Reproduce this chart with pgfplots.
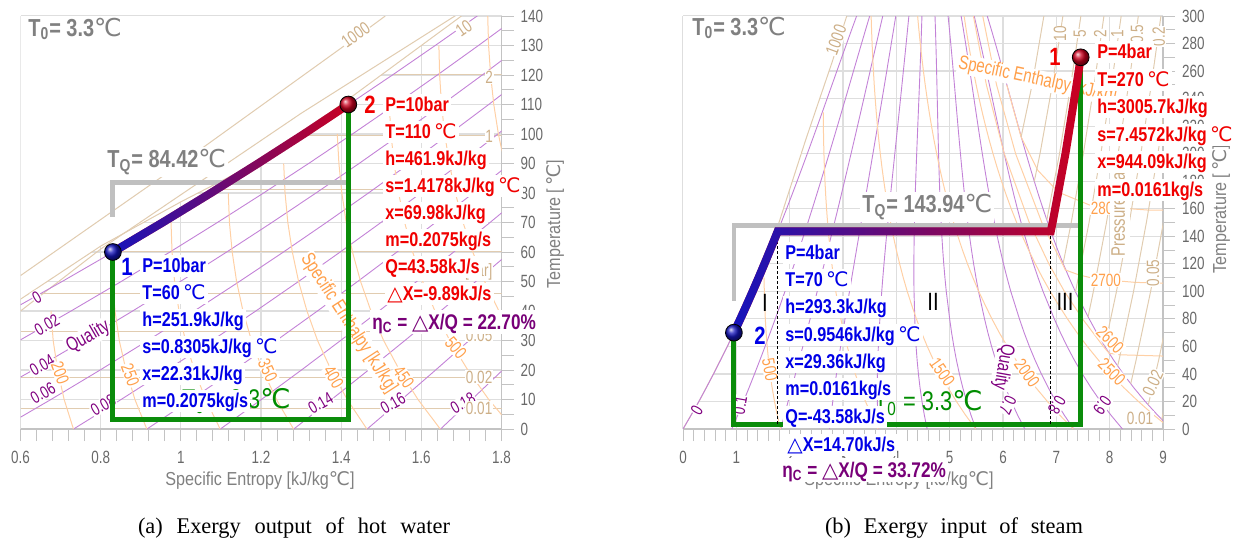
\documentclass[border=0pt]{standalone}
\usepackage{fontspec}
\setmainfont{Liberation Sans}
\newfontfamily\cf[FakeStretch=0.81]{Liberation Sans}
\newfontfamily\tf[FakeStretch=0.76]{Liberation Sans}
\newfontfamily\af[FakeStretch=0.86]{Liberation Sans}
\newfontfamily\dvw{DejaVu Sans}
\newfontfamily\capfont{Liberation Serif}
\usepackage{pgfplots}
\pgfplotsset{compat=1.18}
\usepackage{pgfplotstable}
\usetikzlibrary{fadings}

\newcommand\dC{{\dvw\mdseries ℃}}
\newcommand\tri{{\dvw\mdseries △}}
\newcommand\fs[1]{\fontsize{#1}{#1}\selectfont}

\definecolor{tgray}{RGB}{128,128,128}
\definecolor{tickgray}{RGB}{105,105,105}
\definecolor{axgray}{RGB}{195,195,195}
\definecolor{gridc}{RGB}{222,222,222}
\definecolor{cQline}{RGB}{195,130,215}
\definecolor{cQlab}{RGB}{128,0,128}
\definecolor{cHline}{RGB}{255,208,165}
\definecolor{cHlab}{RGB}{255,160,75}
\definecolor{cPline}{RGB}{225,204,176}
\definecolor{cPlab}{RGB}{205,175,135}
\definecolor{tblue}{RGB}{0,0,230}
\definecolor{tred}{RGB}{240,0,0}
\definecolor{tpurp}{RGB}{120,0,120}
\definecolor{tgreen}{RGB}{0,140,0}
\definecolor{lgreen}{RGB}{10,140,10}
\definecolor{tqgray}{RGB}{192,192,192}
\definecolor{pblue}{RGB}{20,20,190}
\definecolor{pred}{RGB}{205,0,30}

\tikzfading[name=fadeR, left color=transparent!0, right color=transparent!100]

% saturated water / steam table
\pgfplotstableread{
T sf sfg hf hfg
0 0 9.1556 0.0 2501.3
10 0.1510 8.7489 42.0 2477.7
20 0.2965 8.3696 83.9 2453.5
30 0.4368 8.0152 125.8 2430.5
40 0.5724 7.6833 167.5 2406.7
50 0.7038 7.3715 209.3 2382.7
60 0.8313 7.0781 251.1 2358.5
70 0.9551 6.8014 293.0 2333.8
80 1.0756 6.5399 334.9 2308.8
90 1.1929 6.2920 376.9 2283.2
100 1.3072 6.0477 419.0 2257.0
110 1.4188 5.8199 461.3 2230.2
120 1.5279 5.6017 503.7 2202.6
130 1.6346 5.3923 546.3 2174.2
140 1.7392 5.1907 589.1 2144.7
150 1.8418 4.9961 632.2 2114.3
160 1.9426 4.8076 675.5 2082.6
170 2.0417 4.6246 719.2 2049.5
180 2.1392 4.4465 763.2 2015.0
190 2.2355 4.2724 807.6 1978.8
200 2.3305 4.1018 852.4 1940.7
210 2.4245 3.9340 897.8 1900.7
220 2.5177 3.7684 943.6 1858.5
230 2.6101 3.6045 990.1 1813.8
240 2.7020 3.4417 1037.3 1766.5
250 2.7935 3.2795 1085.4 1716.2
260 2.8849 3.1170 1134.4 1662.5
270 2.9765 2.9536 1184.5 1605.2
280 3.0685 2.7886 1236.0 1543.6
290 3.1612 2.6209 1289.1 1477.1
300 3.2552 2.4497 1344.0 1404.9
}\sat

\pgfplotsset{
  tsaxis/.style={
    scale only axis, anchor=south west, height=206.5pt,
    axis x line=bottom, axis y line=right,
    axis line style={draw=axgray, line width=0.7pt, -},
    x axis line style={-}, y axis line style={-},
    tick align=outside, major tick length=6pt, minor tick length=6pt,
    tick style={draw=axgray, line width=0.5pt},
    grid=major, major grid style={draw=gridc, line width=0.6pt},
    tick label style={font=\tf\fs{8.85}, text=tickgray},
    xticklabel style={yshift=-1.5pt},
    /pgf/number format/assume math mode=true,
    clip mode=individual,
  },
  qln/.style={draw=cQline, line width=0.45pt, forget plot},
  hln/.style={draw=cHline, line width=0.5pt, forget plot},
  pln/.style={draw=cPline, line width=0.5pt, forget plot},
}
\tikzset{
  qlab/.style={text=cQlab, font=\tf\fs{8.6}, fill=white, inner sep=0.4pt},
  hlab/.style={text=cHlab, font=\tf\fs{8.9}, fill=white, inner sep=0.4pt},
  plab/.style={text=cPlab, font=\tf\fs{8.9}, fill=white, inner sep=0.4pt},
  bl/.style={anchor=west, fill=white, inner xsep=1pt, inner ysep=0.4pt,
     text height=8.6pt, text depth=2pt, text=tblue, font=\cf\bfseries\fs{10}},
  rd/.style={bl, text=tred},
  pu/.style={bl, text=tpurp, font=\cf\bfseries\fs{10.6}, text height=9pt},
  num/.style={font=\cf\bfseries\fs{12.5}},
  big/.style={anchor=west, inner sep=0pt, text=tgray, font=\cf\bfseries\fs{12.3}},
}

\begin{document}
\begin{tikzpicture}
\path[use as bounding box] (0,0) rectangle (620.5pt,274pt);

%================ LEFT =================
\begin{axis}[tsaxis, at={(10.25pt,59.5pt)}, width=240.5pt,
  xmin=0.6, xmax=1.8, ymin=0, ymax=140,
  xtick={0.6,0.8,1,1.2,1.4,1.6,1.8}, xticklabels={0.6,0.8,1,1.2,1.4,1.6,1.8},
  minor x tick num=4, ytick={0,10,...,140}, minor y tick num=1]
\addplot[fill=white, draw=none, forget plot] coordinates {(0.6,44) (0.8,62) (1.0,77) (1.2,91) (1.4,110) (1.6,130) (1.7,140) (0.6,140)};
\addplot[pln] coordinates {(0.6,44) (0.8,62) (1.0,77) (1.2,91) (1.4,110) (1.6,130) (1.7,140)};
\addplot[pln] coordinates {(0.6,52) (1.0,90) (1.46,135) (1.51,140)};
\addplot[pln] coordinates {(0.6,40) (0.8,61) (1.3,107) (1.8,150)};
% isobars in the wet region
\addplot[pln] coordinates {(1.5302,120.2) (1.8,120.2)};
\addplot[pln] coordinates {(1.3026,99.6) (1.8,99.6)};
\addplot[pln] coordinates {(1.0910,81.3) (1.8,81.3)};
\addplot[pln] coordinates {(0.8320,60.06) (1.8,60.06)};
\addplot[pln] coordinates {(0.6493,45.8) (1.8,45.8)};
\addplot[pln] coordinates {(0.6,32.9) (1.8,32.9)};
\addplot[pln] coordinates {(0.6,17.5) (1.8,17.5)};
\addplot[pln] coordinates {(0.6,7.0) (1.8,7.0)};
% quality lines
\pgfplotsinvokeforeach{0,0.02,0.04,0.06,0.08,0.1,0.12,0.14,0.16,0.18}{
  \addplot[qln] table[x expr=\thisrow{sf}+#1*\thisrow{sfg}, y=T]{\sat};
}
% enthalpy lines
\pgfplotsinvokeforeach{200,250,300,350,400,450,500,550,600}{
  \addplot[hln, restrict expr to domain={\thisrow{hf}}{-10:#1}] table[x expr=\thisrow{sf}+(#1-\thisrow{hf})/\thisrow{hfg}*\thisrow{sfg}, y=T]{\sat};
}
% background labels
\node[qlab, rotate=30] at (axis cs:0.641,44.7) {0};
\node[qlab, rotate=30] at (axis cs:0.666,35.3) {0.02};
\node[qlab, rotate=30] at (axis cs:0.654,21.7) {0.04};
\node[qlab, rotate=30] at (axis cs:0.656,12.2) {0.06};
\node[qlab, rotate=30] at (axis cs:0.806,8.1) {0.08};
\node[qlab, rotate=30] at (axis cs:1.349,8.8) {0.14};
\node[qlab, rotate=30] at (axis cs:1.529,8.8) {0.16};
\node[qlab, rotate=30] at (axis cs:1.704,8.8) {0.18};
\node[qlab, rotate=30, font=\tf\fs{9.8}] at (axis cs:0.769,31.2) {Quality};
\node[hlab, rotate=-70] at (axis cs:0.699,19.0) {200};
\node[hlab, rotate=-70] at (axis cs:0.874,18.3) {250};
\node[hlab, rotate=-65] at (axis cs:1.217,20) {350};
\node[hlab, rotate=-60] at (axis cs:1.381,17.6) {400};
\node[hlab, rotate=-55] at (axis cs:1.556,17.6) {450};
\node[hlab, rotate=-50] at (axis cs:1.686,27.5) {500};
\node[hlab, rotate=-57, font=\tf\fs{9.8}] at (axis cs:1.419,35.9) {Specific Enthalpy [kJ/kg]};
\node[plab, rotate=35] at (axis cs:1.436,133.6) {1000};
\node[plab, rotate=35] at (axis cs:1.706,135.9) {10};
\node[plab] at (axis cs:1.769,119.3) {2};
\node[plab] at (axis cs:1.769,99.3) {1};
\node[plab, anchor=east] at (axis cs:1.78,53.2) {Pressure [bar]};
\node[plab, anchor=east] at (axis cs:1.78,31.9) {0.05};
\node[plab, anchor=east] at (axis cs:1.78,17.6) {0.02};
\node[plab, anchor=east] at (axis cs:1.78,7.1) {0.01};
% T_Q, green path and process
\addplot[draw=tqgray, line width=2.4pt] coordinates {(0.8305,72) (0.8305,83.5) (1.4178,83.5)};
\addplot[draw=lgreen, line width=2.5pt] coordinates {(0.8305,60) (0.8305,3.3) (1.4178,3.3) (1.4178,110)};
\addplot[draw=pred, line width=4pt] table {
s T
0.8305 60
0.9545 70
1.0750 80
1.1924 90
1.3068 100
1.4178 110
};
\addplot[draw=pblue, line width=4pt, path fading=fadeR] table {
s T
0.8305 60
0.9545 70
1.0750 80
1.1924 90
1.3068 100
1.4178 110
};
\addplot[only marks, mark=ball, mark size=4.2pt, ball color=pblue, mark options={ball color=pblue}] coordinates {(0.8305,60)};
\addplot[only marks, mark=ball, mark size=4.2pt, ball color=pred, mark options={ball color=pred}] coordinates {(1.4178,110)};
\end{axis}

%================ RIGHT =================
\begin{axis}[tsaxis, at={(341.5pt,59.5pt)}, width=240pt,
  xmin=0, xmax=9, ymin=0, ymax=300,
  xtick={0,...,9}, minor x tick num=4, ytick={0,20,...,300}, minor y tick num=1]
\addplot[fill=white, draw=none, forget plot] coordinates {(0,0) (0.30,20) (0.57,40) (0.83,60) (1.08,80) (1.31,100) (1.55,120) (1.80,150) (2.30,210) (2.80,267) (3.07,300) (0,300)};
\addplot[pln] coordinates {(0,0) (0.30,20) (0.57,40) (0.83,60) (1.08,80) (1.31,100) (1.55,120) (1.80,150) (2.30,210) (2.80,267) (3.07,300)};
% quality lines
\pgfplotsinvokeforeach{0,0.1,0.2,0.3,0.4,0.5,0.6,0.7,0.8,0.9,1}{
  \addplot[qln] table[x expr=\thisrow{sf}+#1*\thisrow{sfg}, y=T]{\sat};
}
% enthalpy lines (wet region)
\pgfplotsinvokeforeach{500,1000,1500,2000,2500}{
  \addplot[hln, restrict expr to domain={\thisrow{hf}}{-10:#1}] table[x expr=\thisrow{sf}+(#1-\thisrow{hf})/\thisrow{hfg}*\thisrow{sfg}, y=T]{\sat};
}
\addplot[hln] coordinates {(9.0,53) (8.2,53.9) (7.99,55) (7.880,60) (7.492,80) (7.151,100) (6.859,120) (6.492,150) (6.024,200) (5.688,250) (5.445,300)};
\addplot[hln] coordinates {(9.0,106) (8.48,106.5) (7.74,109) (7.42,112) (7.17,115.5) (7.113,120) (6.728,150) (6.236,200) (5.879,250) (5.620,300)};
\addplot[hln] coordinates {(9.0,159) (8.73,159) (7.667,162) (7.04,172) (6.65,188) (6.34,212) (6.282,220) (6.070,250)};
% isobars (superheated region)
\addplot[pln] coordinates {(6.3409,212.4) (6.5453,250) (6.7664,300)};
\addplot[pln] coordinates {(6.5865,179.9) (6.6940,200) (6.9247,250) (7.1229,300)};
\addplot[pln] coordinates {(6.8213,151.8) (7.0592,200) (7.2709,250) (7.4599,300)};
\addplot[pln] coordinates {(7.1272,120.2) (7.2795,150) (7.5066,200) (7.7086,250) (7.8926,300)};
\addplot[pln] coordinates {(7.3594,99.6) (7.6134,150) (7.8343,200) (8.0333,250) (8.2158,300)};
\addplot[pln] coordinates {(7.5939,81.3) (7.6947,100) (7.9401,150) (8.1580,200) (8.3556,250) (8.5373,300)};
\addplot[pln] coordinates {(7.9085,60.06) (8.128,100) (8.368,150) (8.584,200) (8.780,250) (8.961,300)};
\addplot[pln] coordinates {(8.1502,45.8) (8.1749,50) (8.4479,100) (8.6882,150) (8.9038,200) (9.1002,250)};
\addplot[pln] coordinates {(8.3951,32.9) (8.495,50) (8.768,100) (9.008,150)};
\addplot[pln] coordinates {(8.7237,17.5) (8.918,50) (9.19,100)};
\addplot[pln] coordinates {(8.9756,7.0) (9.24,50)};
% background labels
\node[qlab, rotate=60] at (axis cs:0.26,13.8) {0};
\node[qlab, rotate=80] at (axis cs:1.07,17.4) {0.1};
\node[qlab, rotate=-115] at (axis cs:6.09,17.4) {0.7};
\node[qlab, rotate=-120] at (axis cs:7.01,17.4) {0.8};
\node[qlab, rotate=-125] at (axis cs:7.86,17.4) {0.9};
\node[qlab, rotate=-100, font=\tf\fs{9.8}] at (axis cs:6.0,45) {Quality};
\node[hlab, rotate=-80] at (axis cs:1.63,42.9) {500};
\node[hlab, rotate=-55] at (axis cs:4.86,41.4) {1500};
\node[hlab, rotate=-55] at (axis cs:6.45,40.7) {2000};
\node[hlab, rotate=-45] at (axis cs:8.04,41.4) {2500};
\node[hlab, rotate=-45] at (axis cs:8.01,64.7) {2600};
\node[hlab] at (axis cs:7.93,108.2) {2700};
\node[hlab] at (axis cs:7.93,160.5) {2800};
\node[hlab, rotate=-12, font=\tf\fs{9.8}] at (axis cs:6.65,253.5) {Specific Enthalpy [kJ/kg]};
\node[plab, rotate=70] at (axis cs:2.87,282.6) {1000};
\node[plab, rotate=90] at (axis cs:7.07,287) {10};
\node[plab, rotate=90] at (axis cs:7.44,287) {5};
\node[plab, rotate=90] at (axis cs:7.82,287) {2};
\node[plab, rotate=90] at (axis cs:8.14,287) {1};
\node[plab, rotate=90] at (axis cs:8.51,287) {0.5};
\node[plab, rotate=90] at (axis cs:8.92,285) {0.2};
\node[plab, rotate=90, font=\tf\fs{9.8}] at (axis cs:8.19,159) {Pressure [bar]};
\node[plab, rotate=90] at (axis cs:8.81,113.3) {0.05};
\node[plab, rotate=65] at (axis cs:8.81,33.4) {0.02};
\node[plab] at (axis cs:8.57,8.0) {0.01};
% T_Q, green, dashed, process
\addplot[draw=tqgray, line width=2.4pt] coordinates {(0.9546,93) (0.9546,148) (7.4572,148)};
\addplot[draw=lgreen, line width=2.5pt] coordinates {(0.9546,70) (0.9546,3.3) (7.4572,3.3) (7.4572,270)};
\addplot[black, line width=0.6pt, dash pattern=on 1.5pt off 1pt] coordinates {(1.7766,143.6) (1.7766,3.3)};
\addplot[black, line width=0.6pt, dash pattern=on 1.5pt off 1pt] coordinates {(6.8959,143.6) (6.8959,3.3)};
\addplot[draw=pred, line width=4pt] table {
s T
0.9546 70
1.0756 80
1.1929 90
1.3072 100
1.4188 110
1.5279 120
1.6346 130
1.7392 140
1.7766 143.6
6.8959 143.6
6.9299 150
7.1706 200
7.3789 250
7.4572 270
};
\addplot[draw=pblue, line width=4pt, path fading=fadeR] table {
s T
0.9546 70
1.0756 80
1.1929 90
1.3072 100
1.4188 110
1.5279 120
1.6346 130
1.7392 140
1.7766 143.6
6.8959 143.6
6.9299 150
7.1706 200
7.3789 250
7.4572 270
};
\addplot[only marks, mark=ball, mark size=4.2pt, ball color=pblue, mark options={ball color=pblue}] coordinates {(0.9546,70)};
\addplot[only marks, mark=ball, mark size=4.2pt, ball color=pred, mark options={ball color=pred}] coordinates {(7.4572,270)};
\end{axis}

%================ FOREGROUND TEXT (pixel coordinates) =================
\begin{scope}[x=0.5pt, y=-0.5pt, shift={(0pt,274pt)}]
% axis titles
\node[text=tgray, font=\af\fs{9.4}] at (260,480) {Specific Entropy [kJ/kg\dC]};
\node[text=tgray, font=\af\fs{9.4}] at (899,480) {Specific Entropy [kJ/kg\dC]};
\node[text=tgray, font=\af\fs{9.4}, rotate=90] at (555,224) {Temperature [\,\dC]};
\node[text=tgray, font=\af\fs{9.4}, rotate=90] at (1221,209) {Temperature [\,\dC]};
% green T0 labels
\node[anchor=east, inner sep=0pt, text=tgreen, font=\cf\fs{13.5}] at (291,401) {T\textsubscript{0} = 3.3\dC};
\node[anchor=east, inner sep=0pt, text=tgreen, font=\cf\fs{13.5}] at (983,403) {T\textsubscript{0} = 3.3\dC};
% gray labels
\node[big] at (28,29) {T\textsubscript{0}= 3.3\dC};
\node[big] at (692,28) {T\textsubscript{0}= 3.3\dC};
\node[big, fill=white, inner sep=1pt] at (105,162) {T\textsubscript{Q}= 84.42\dC};
\node[big, fill=white, inner sep=1pt] at (860,207) {T\textsubscript{Q}= 143.94\dC};
% left blue block
\node[bl] at (140,266) {P=10bar};
\node[bl] at (140,293) {T=60\,\dC};
\node[bl] at (140,320) {h=251.9kJ/kg};
\node[bl] at (140,347) {s=0.8305kJ/kg\,\dC};
\node[bl] at (140,374) {x=22.31kJ/kg};
\node[bl] at (140,401) {m=0.2075kg/s};
\node[num, text=tblue] at (127,267) {1};
% left red block
\node[rd] at (383,105) {P=10bar};
\node[rd] at (383,132) {T=110\,\dC};
\node[rd] at (383,159) {h=461.9kJ/kg};
\node[rd] at (383,186) {s=1.4178kJ/kg\,\dC};
\node[rd] at (383,213) {x=69.98kJ/kg};
\node[rd] at (383,240) {m=0.2075kg/s};
\node[rd] at (383,267) {Q=43.58kJ/s};
\node[rd] at (385,294) {\tri X=-9.89kJ/s};
\node[pu] at (370,322) {η\textsubscript{C} = \tri X/Q = 22.70\%};
\node[num, text=tred] at (370,105) {2};
% right blue block
\node[bl] at (783,253) {P=4bar};
\node[bl] at (783,280) {T=70\,\dC};
\node[bl] at (783,307) {h=293.3kJ/kg};
\node[bl] at (783,335) {s=0.9546kJ/kg\,\dC};
\node[bl] at (783,362) {x=29.36kJ/kg};
\node[bl] at (783,389) {m=0.0161kg/s};
\node[bl] at (783,417) {Q=-43.58kJ/s};
\node[bl] at (785,445) {\tri X=14.70kJ/s};
\node[pu] at (780,470) {η\textsubscript{C} = \tri X/Q = 33.72\%};
\node[num, text=tblue] at (760,336) {2};
% right red block
\node[rd] at (1095,52) {P=4bar};
\node[rd] at (1095,80) {T=270\,\dC};
\node[rd] at (1095,107) {h=3005.7kJ/kg};
\node[rd] at (1095,135) {s=7.4572kJ/kg\,\dC};
\node[rd] at (1095,162) {x=944.09kJ/kg};
\node[rd] at (1095,190) {m=0.0161kg/s};
\node[num, text=tred] at (1055,57) {1};
% roman numerals
\node[font=\cf\fs{12.5}] at (765,303) {I};
\node[font=\cf\fs{12.5}] at (933,302) {II};
\node[font=\cf\fs{12.5}] at (1065,302) {III};
% captions
\node[font=\capfont\fs{11.2}] at (294,528) {\makebox[156pt][s]{(a) Exergy output of hot water}};
\node[font=\capfont\fs{11.2}] at (954,528) {\makebox[129pt][s]{(b) Exergy input of steam}};
\end{scope}
\end{tikzpicture}
\end{document}
